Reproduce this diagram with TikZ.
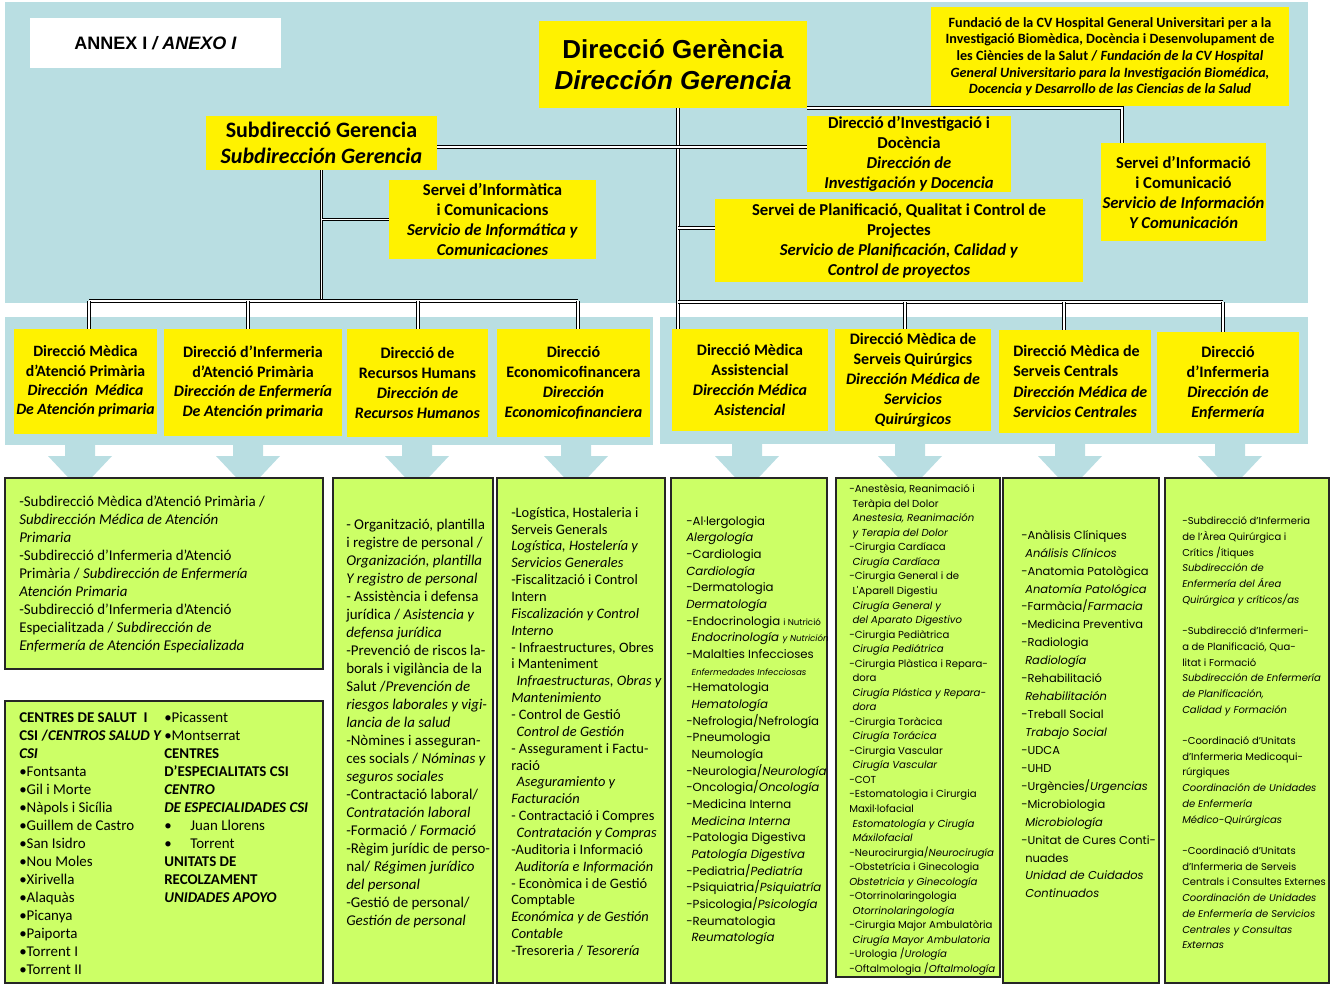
\documentclass[tikz,border=0pt]{standalone}
\usepackage{fontspec}
\setmainfont{Carlito}
\newfontfamily\arialf{Liberation Sans}
\newfontfamily\gothf{Poppins}
\usetikzlibrary{fit}
\definecolor{bgblue}{RGB}{185,222,226}
\definecolor{boxgreen}{RGB}{204,255,102}
\newcommand{\fsz}[2]{\fontsize{#1}{#2}\selectfont}
\newcommand{\bluearrow}[1]{\fill[bgblue] (#1-15,440) -- (#1+15,440) -- (#1+15,456) -- (#1+32,456) -- (#1,490) -- (#1-32,456) -- (#1-15,456) -- cycle;}
\begin{document}
\begin{tikzpicture}[x=0.75pt,y=-0.75pt,
  ybox/.style={fill=yellow, inner sep=0pt},
  ytext/.style={inner sep=0pt, align=center},
  gb/.style={fill=boxgreen, draw=black!85, line width=1.1pt, inner sep=0pt},
  tx/.style={anchor=north west, inner sep=0pt, align=left},
  dl/.style={draw=black, line width=0.7pt, double=white, double distance=1.4pt}]
\useasboundingbox (0,0) rectangle (1332,985);
% backgrounds
\fill[bgblue] (5,2) rectangle (1308,303);
\fill[bgblue] (5,317) rectangle (653,445);
\fill[bgblue] (660,317) rectangle (1308,444);
\bluearrow{80}
\bluearrow{248}
\bluearrow{417}
\bluearrow{576}
\bluearrow{747}
\bluearrow{910}
\bluearrow{1070}
\bluearrow{1230}
% top boxes
\node[fill=white, inner sep=0pt, fit={(30,18) (281,68)}] (annex) {};
\node[ybox, fit={(539,21) (807,108)}] (dg) {};
\node[ybox, fit={(931,7) (1289,106)}] (fund) {};
\node[ybox, fit={(206,116) (437,170)}] (subg) {};
\node[ybox, fit={(389,180) (596,259)}] (sinf) {};
\node[ybox, fit={(807,116) (1011,192)}] (dinv) {};
\node[ybox, fit={(715,199) (1083,282)}] (splan) {};
\node[ybox, fit={(1101,143) (1266,241)}] (sinfo) {};
% middle boxes
\node[ybox, fit={(14,329) (157,434)}] (m1) {};
\node[ybox, fit={(164,329) (342,436)}] (m2) {};
\node[ybox, fit={(347,329) (488,437)}] (m3) {};
\node[ybox, fit={(497,329) (650,437)}] (m4) {};
\node[ybox, fit={(672,329) (828,431)}] (m5) {};
\node[ybox, fit={(835,329) (991,431)}] (m6) {};
\node[ybox, fit={(999,330) (1151,433)}] (m7) {};
\node[ybox, fit={(1157,332) (1299,433)}] (m8) {};
% connectors
\coordinate (tk) at (678,0);
\coordinate (busL) at (0,301);
\coordinate (busR) at (0,302);
\coordinate (yinv) at (0,147);
\coordinate (ypl) at (0,228);
\coordinate (xinfo) at (1122,0);
\coordinate (l1) at (89,301);
\coordinate (l2) at (248,301);
\coordinate (l3) at (418,301);
\coordinate (l4) at (578,301);
\coordinate (r1) at (905,302);
\coordinate (r2) at (1064,302);
\coordinate (r3) at (1223,302);
\draw[dl] (dg.south -| tk) -- (m5.north -| tk);
\draw[dl] (subg.east |- yinv) -- (dinv.west |- yinv);
\draw[dl] (subg.south) -- (subg.south |- busL);
\draw[dl] (sinf.west) -- (sinf.west -| subg.south);
\draw[dl] (splan.west |- ypl) -- (tk |- ypl);
\draw[dl] (dg.south east) -| (xinfo |- sinfo.north);
\draw[dl] (l1) -- (l4);
\draw[dl] (l1) -- (l1 |- m1.north);
\draw[dl] (l2) -- (l2 |- m2.north);
\draw[dl] (l3) -- (l3 |- m3.north);
\draw[dl] (l4) -- (l4 |- m4.north);
\draw[dl] (tk |- busR) -- (r3);
\draw[dl] (r1) -- (r1 |- m6.north);
\draw[dl] (r2) -- (r2 |- m7.north);
\draw[dl] (r3) -- (r3 |- m8.north);
% texts of top and middle boxes
\node[ytext, font=\arialf\bfseries\fsz{13.5}{16}] (annext) at (annex.center) {ANNEX I \textit{/ ANEXO I}};
\node[ytext, font=\arialf\bfseries\fsz{19.5}{23.25}] (dgt) at (dg.center) {Direcció Gerència\\\textit{Dirección Gerencia}};
\node[ytext, font=\bfseries\fsz{10.6}{12.5}] (fundt) at (fund.center) {Fundació de la CV Hospital General Universitari per a la\\Investigació Biomèdica, Docència i Desenvolupament de\\les Ciències de la Salut / \textit{Fundación de la CV Hospital}\\\textit{General Universitario para la Investigación Biomédica,}\\\textit{Docencia y Desarrollo de las Ciencias de la Salud}};
\node[ytext, font=\bfseries\fsz{16.5}{19.5}] (subgt) at (subg.center) {Subdirecció Gerencia\\\textit{Subdirección Gerencia}};
\node[ytext, font=\bfseries\fsz{12.5}{15.2}] (sinft) at (sinf.center) {Servei d’Informàtica\\i Comunicacions\\\textit{Servicio de Informática y}\\\textit{Comunicaciones}};
\node[ytext, font=\bfseries\fsz{12.5}{15}] (dinvt) at (dinv.center) {Direcció d’Investigació i\\Docència\\\textit{Dirección de}\\\textit{Investigación y Docencia}};
\node[ytext, font=\bfseries\fsz{12.5}{15}] (splant) at (splan.center) {Servei de Planificació, Qualitat i Control de\\Projectes\\\textit{Servicio de Planificación, Calidad y}\\\textit{Control de proyectos}};
\node[ytext, font=\bfseries\fsz{12.5}{15}] (sinfot) at (sinfo.center) {Servei d’Informació\\i Comunicació\\\textit{Servicio de Información}\\\textit{Y Comunicación}};
\node[ytext, font=\bfseries\fsz{11.8}{14.4}] (m1t) at (m1.center) {Direcció Mèdica\\d’Atenció Primària\\\textit{Dirección~ Médica}\\\textit{De Atención primaria}};
\node[ytext, font=\bfseries\fsz{12}{14.8}] (m2t) at (m2.center) {Direcció d’Infermeria\\d’Atenció Primària\\\textit{Dirección de Enfermería}\\\textit{De Atención primaria}};
\node[ytext, font=\bfseries\fsz{12}{14.8}] (m3t) at (m3.center) {Direcció de\\Recursos Humans\\\textit{Dirección de}\\\textit{Recursos Humanos}};
\node[ytext, font=\bfseries\fsz{12}{15}] (m4t) at (m4.center) {Direcció\\Economicofinancera\\\textit{Dirección}\\\textit{Economicofinanciera}};
\node[ytext, font=\bfseries\fsz{12}{15}] (m5t) at (m5.center) {Direcció Mèdica\\Assistencial\\\textit{Dirección Médica}\\\textit{Asistencial}};
\node[ytext, font=\bfseries\fsz{12}{15}] (m6t) at (m6.center) {Direcció Mèdica de\\Serveis Quirúrgics\\\textit{Dirección Médica de}\\\textit{Servicios}\\\textit{Quirúrgicos}};
\node[ytext, align=left, font=\bfseries\fsz{12}{15.2}, xshift=4pt] (m7t) at (m7.center) {Direcció Mèdica de\\Serveis Centrals\\\textit{Dirección Médica de}\\\textit{Servicios Centrales}};
\node[ytext, font=\bfseries\fsz{12}{15}] (m8t) at (m8.center) {Direcció\\d’Infermeria\\\textit{Dirección de}\\\textit{Enfermería}};
% bottom boxes
\node[gb, fit={(5,478) (323,669)}] (bA) {};
\node[gb, fit={(5,701) (323,983)}] (bB) {};
\node[gb, fit={(333,478) (493,983)}] (bC) {};
\node[gb, fit={(497,478) (665,983)}] (bD) {};
\node[gb, fit={(671,478) (827,983)}] (bE) {};
\node[gb, fit={(836,478) (1000,977)}] (bF) {};
\node[gb, fit={(1003,478) (1159,983)}] (bG) {};
\node[gb, fit={(1165,478) (1329,983)}] (bH) {};
% bottom texts
\node[tx, font=\fsz{11.2}{13.5}] (tA) at (19,496) {-Subdirecció Mèdica d’Atenció Primària /\\\textit{Subdirección Médica de Atención}\\\textit{Primaria}\\-Subdirecció d’Infermeria d’Atenció\\Primària / \textit{Subdirección de Enfermería}\\\textit{Atención Primaria}\\-Subdirecció d’Infermeria d’Atenció\\Especialitzada / \textit{Subdirección de}\\\textit{Enfermería de Atención Especializada}};
\node[tx, font=\fsz{11.2}{13.5}] (tB1) at (19,712) {\textbf{CENTRES DE SALUT~ I}\\\textbf{CSI /\textit{CENTROS SALUD Y}}\\\textbf{\textit{CSI}}\\•Fontsanta\\•Gil i Morte\\•Nàpols i Sicília\\•Guillem de Castro\\•San Isidro\\•Nou Moles\\•Xirivella\\•Alaquàs\\•Picanya\\•Paiporta\\•Torrent I\\•Torrent II};
\node[tx, font=\fsz{11.2}{13.5}] (tB2) at (164,712) {•Picassent\\•Montserrat\\\textbf{CENTRES}\\\textbf{D’ESPECIALITATS CSI}\\\textbf{\textit{CENTRO}}\\\textbf{\textit{DE ESPECIALIDADES CSI}}\\•\hspace{14pt}Juan Llorens\\•\hspace{14pt}Torrent\\\textbf{UNITATS DE}\\\textbf{RECOLZAMENT}\\\textbf{\textit{UNIDADES APOYO}}};
\node[tx, font=\fsz{11.2}{13.5}] (tC) at (346,519) {- Organització, plantilla\\i registre de personal /\\\textit{Organización, plantilla}\\\textit{Y registro de personal}\\- Assistència i defensa\\jurídica / \textit{Asistencia y}\\\textit{defensa jurídica}\\-Prevenció de riscos la-\\borals i vigilància de la\\Salut /\textit{Prevención de}\\\textit{riesgos laborales y vigi-}\\\textit{lancia de la salud}\\-Nòmines i asseguran-\\ces socials / \textit{Nóminas y}\\\textit{seguros sociales}\\-Contractació laboral/\\\textit{Contratación laboral}\\-Formació / \textit{Formació}\\-Règim jurídic de perso-\\nal/ \textit{Régimen jurídico}\\\textit{del personal}\\-Gestió de personal/\\\textit{Gestión de personal}};
\node[tx, font=\fsz{10.8}{12.64}] (tD) at (511,507) {-Logística, Hostaleria i\\Serveis Generals\\\textit{Logística, Hostelería y}\\\textit{Servicios Generales}\\-Fiscalització i Control\\Intern\\\textit{Fiscalización y Control}\\\textit{Interno}\\- Infraestructures, Obres\\i Manteniment\\\hspace{4pt}\textit{Infraestructuras, Obras y}\\\textit{Mantenimiento}\\- Control de Gestió\\\hspace{4pt}\textit{Control de Gestión}\\- Assegurament i Factu-\\ració\\\hspace{4pt}\textit{Aseguramiento y}\\\textit{Facturación}\\- Contractació i Compres\\\hspace{4pt}\textit{Contratación y Compras}\\-Auditoria i Informació\\\hspace{3pt}\textit{Auditoría e Información}\\- Econòmica i de Gestió\\Comptable\\\textit{Económica y de Gestión}\\\textit{Contable}\\-Tresoreria / \textit{Tesorería}};
\node[tx, font=\gothf\fsz{8.8}{12.5}] (tE) at (686,516) {-Al·lergologia\\\textit{Alergología}\\-Cardiologia\\\textit{Cardiología}\\-Dermatologia\\\textit{Dermatología}\\-Endocrinologia {\fsz{6.5}{12.5}i Nutrició}\\\hspace{4pt}\textit{Endocrinología {\fsz{6.5}{12.5}y Nutrición}}\\-Malalties Infeccioses\\\hspace{4pt}{\fsz{6.5}{12.5}\textit{Enfermedades Infecciosas}}\\-Hematologia\\\hspace{4pt}\textit{Hematología}\\-Nefrologia/Nefrología\\-Pneumologia\\\hspace{4pt}Neumología\\-Neurologia/\textit{Neurología}\\-Oncologia/\textit{Oncología}\\-Medicina Interna\\\hspace{4pt}\textit{Medicina Interna}\\-Patologia Digestiva\\\hspace{4pt}\textit{Patología Digestiva}\\-Pediatria/\textit{Pediatría}\\-Psiquiatria/\textit{Psiquiatría}\\-Psicologia/\textit{Psicología}\\-Reumatologia\\\hspace{4pt}\textit{Reumatología}};
\node[tx, font=\gothf\fsz{7.6}{10.9}] (tF) at (849,484.5) {-Anestèsia, Reanimació i\\\hspace{2.5pt}Teràpia del Dolor\\\hspace{2.5pt}\textit{Anestesia, Reanimación}\\\hspace{2.5pt}\textit{y Terapia del Dolor}\\-Cirurgia Cardíaca\\\hspace{2.5pt}\textit{Cirugía Cardíaca}\\-Cirurgia General i de\\\hspace{2.5pt}L'Aparell Digestiu\\\hspace{2.5pt}\textit{Cirugía General y}\\\hspace{2.5pt}\textit{del Aparato Digestivo}\\-Cirurgia Pediàtrica\\\hspace{2.5pt}\textit{Cirugía Pediátrica}\\-Cirurgia Plàstica i Repara-\\\hspace{2.5pt}dora\\\hspace{2.5pt}\textit{Cirugía Plástica y Repara-}\\\hspace{2.5pt}\textit{dora}\\-Cirurgia Toràcica\\\hspace{2.5pt}\textit{Cirugía Torácica}\\-Cirurgia Vascular\\\hspace{2.5pt}\textit{Cirugía Vascular}\\-COT\\-Estomatologia i Cirurgia\\Maxil·lofacial\\\hspace{2.5pt}\textit{Estomatología y Cirugía}\\\hspace{2.5pt}\textit{Máxilofacial}\\-Neurocirurgia/\textit{Neurocirugía}\\-Obstetrícia i Ginecologia\\\textit{Obstetricia y Ginecología}\\-Otorrinolaringologia\\\hspace{2.5pt}\textit{Otorrinolaringología}\\-Cirurgia Major Ambulatòria\\\hspace{2.5pt}\textit{Cirugía Mayor Ambulatoria}\\-Urologia /\textit{Urología}\\-Oftalmologia /\textit{Oftalmología}};
\node[tx, font=\gothf\fsz{8.6}{13.45}] (tG) at (1021,530) {-Anàlisis Clíniques\\\hspace{3pt}\textit{Análisis Clínicos}\\-Anatomia Patològica\\\hspace{3pt}\textit{Anatomía Patológica}\\-Farmàcia/\textit{Farmacia}\\-Medicina Preventiva\\-Radiologia\\\hspace{3pt}\textit{Radiología}\\-Rehabilitació\\\hspace{3pt}\textit{Rehabilitación}\\-Treball Social\\\hspace{3pt}\textit{Trabajo Social}\\-UDCA\\-UHD\\-Urgències/\textit{Urgencias}\\-Microbiologia\\\hspace{3pt}\textit{Microbiología}\\-Unitat de Cures Conti-\\\hspace{3pt}nuades\\\hspace{3pt}\textit{Unidad de Cuidados}\\\hspace{3pt}\textit{Continuados}};
\node[tx, font=\gothf\fsz{7.5}{11.78}] (tH) at (1182,516.5) {-Subdirecció d’Infermeria\\de l’Àrea Quirúrgica i\\Crítics /ítiques\\\textit{Subdirección de}\\\textit{Enfermería del Área}\\\textit{Quirúrgica y críticos/as}\\\mbox{}\\-Subdirecció d’Infermeri-\\a de Planificació, Qua-\\litat i Formació\\\textit{Subdirección de Enfermería}\\\textit{de Planificación,}\\\textit{Calidad y Formación}\\\mbox{}\\-Coordinació d’Unitats\\d’Infermeria Medicoqui-\\rúrgiques\\\textit{Coordinación de Unidades}\\\textit{de Enfermería}\\\textit{Médico-Quirúrgicas}\\\mbox{}\\-Coordinació d’Unitats\\d’Infermeria de Serveis\\Centrals i Consultes Externes\\\textit{Coordinación de Unidades}\\\textit{de Enfermería de Servicios}\\\textit{Centrales y Consultas}\\\textit{Externas}};
\end{tikzpicture}
\end{document}
